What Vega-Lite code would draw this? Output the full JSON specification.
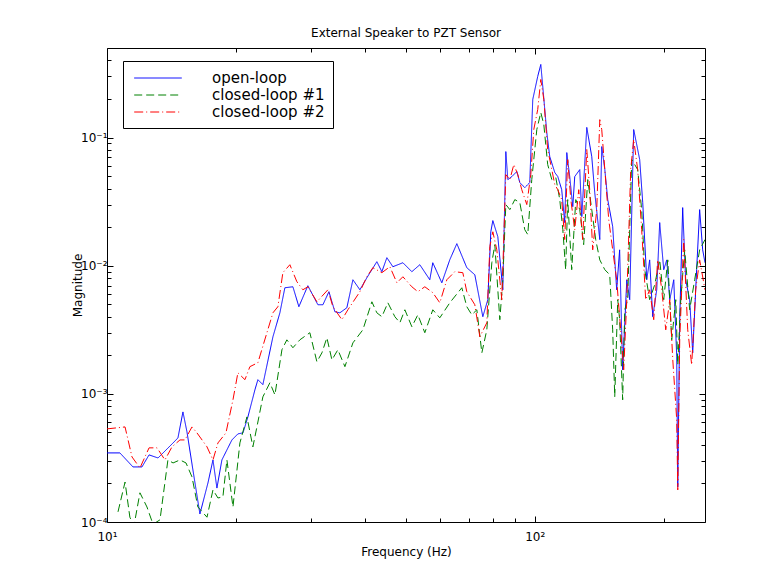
{
"$schema": "https://vega.github.io/schema/vega-lite/v6.json",
"width": 598, "height": 474,
"autosize": {"type": "none"},
"padding": {"left": 107, "top": 48, "right": 62, "bottom": 60},
"background": "white",
"title": {"text": "External Speaker to PZT Sensor", "font": "DejaVu Sans", "fontSize": 12, "fontWeight": "normal", "color": "black", "frame": "group", "offset": 8},
"config": {
  "view": {"stroke": "black", "strokeWidth": 1},
  "axis": {"domain": false, "grid": false, "tickColor": "black", "tickWidth": 1, "labelColor": "black", "titleColor": "black", "labelFont": "DejaVu Sans", "titleFont": "DejaVu Sans", "labelFontSize": 12, "titleFontSize": 12, "titleFontWeight": "normal", "labelFlush": false}
},
"data": {"values": [
{"s":"open-loop","f":10.0,"m":3.46e-4},{"s":"open-loop","f":10.72,"m":3.46e-4},{"s":"open-loop","f":11.5,"m":2.69e-4},{"s":"open-loop","f":12.07,"m":2.69e-4},{"s":"open-loop","f":12.54,"m":3.34e-4},{"s":"open-loop","f":13.16,"m":3.16e-4},{"s":"open-loop","f":14.27,"m":4.14e-4},{"s":"open-loop","f":14.65,"m":4.53e-4},{"s":"open-loop","f":15.05,"m":7.23e-4},{"s":"open-loop","f":15.38,"m":5.05e-4},{"s":"open-loop","f":15.88,"m":2.55e-4},{"s":"open-loop","f":16.49,"m":1.155e-4},{"s":"open-loop","f":17.22,"m":2.02e-4},{"s":"open-loop","f":17.69,"m":3.05e-4},{"s":"open-loop","f":18.07,"m":1.84e-4},{"s":"open-loop","f":18.56,"m":3.05e-4},{"s":"open-loop","f":19.59,"m":4.37e-4},{"s":"open-loop","f":20.23,"m":4.87e-4},{"s":"open-loop","f":20.79,"m":4.96e-4},{"s":"open-loop","f":21.35,"m":6.61e-4},{"s":"open-loop","f":22.17,"m":1.075e-3},{"s":"open-loop","f":22.53,"m":1.29e-3},{"s":"open-loop","f":23.14,"m":1.18e-3},{"s":"open-loop","f":24.43,"m":2.79e-3},{"s":"open-loop","f":25.36,"m":4.29e-3},{"s":"open-loop","f":26.05,"m":6.73e-3},{"s":"open-loop","f":27.2,"m":6.85e-3},{"s":"open-loop","f":28.09,"m":4.79e-3},{"s":"open-loop","f":29.48,"m":6.98e-3},{"s":"open-loop","f":31.12,"m":4.96e-3},{"s":"open-loop","f":31.97,"m":4.96e-3},{"s":"open-loop","f":33.02,"m":6.27e-3},{"s":"open-loop","f":34.1,"m":4.37e-3},{"s":"open-loop","f":35.03,"m":4.29e-3},{"s":"open-loop","f":36.37,"m":4.7e-3},{"s":"open-loop","f":37.57,"m":7.77e-3},{"s":"open-loop","f":39.01,"m":6.49e-3},{"s":"open-loop","f":40.51,"m":8.06e-3},{"s":"open-loop","f":42.74,"m":1.075e-2},{"s":"open-loop","f":43.91,"m":8.98e-3},{"s":"open-loop","f":45.11,"m":1.155e-2},{"s":"open-loop","f":46.59,"m":9.82e-3},{"s":"open-loop","f":49.17,"m":1.055e-2},{"s":"open-loop","f":51.6,"m":8.98e-3},{"s":"open-loop","f":53.86,"m":1.018e-2},{"s":"open-loop","f":56.83,"m":7.77e-3},{"s":"open-loop","f":57.76,"m":1.055e-2},{"s":"open-loop","f":60.63,"m":7.36e-3},{"s":"open-loop","f":63.3,"m":1.114e-2},{"s":"open-loop","f":65.74,"m":1.486e-2},{"s":"open-loop","f":69.36,"m":9.65e-3},{"s":"open-loop","f":72.42,"m":8.5e-3},{"s":"open-loop","f":75.61,"m":4.0e-3},{"s":"open-loop","f":77.67,"m":5.43e-3},{"s":"open-loop","f":78.93,"m":1.84e-2},{"s":"open-loop","f":79.79,"m":2.25e-2},{"s":"open-loop","f":81.96,"m":1.685e-2},{"s":"open-loop","f":84.2,"m":6.49e-3},{"s":"open-loop","f":85.57,"m":7.77e-2},{"s":"open-loop","f":86.5,"m":4.7e-2},{"s":"open-loop","f":88.39,"m":4.96e-2},{"s":"open-loop","f":90.79,"m":5.43e-2},{"s":"open-loop","f":92.27,"m":4.45e-2},{"s":"open-loop","f":94.76,"m":4.07e-2},{"s":"open-loop","f":97.34,"m":4.45e-2},{"s":"open-loop","f":98.92,"m":0.198},{"s":"open-loop","f":101.6,"m":0.30},{"s":"open-loop","f":103.3,"m":0.372},{"s":"open-loop","f":104.4,"m":0.25},{"s":"open-loop","f":106.7,"m":0.109},{"s":"open-loop","f":108.4,"m":7.1e-2},{"s":"open-loop","f":111.4,"m":5.33e-2},{"s":"open-loop","f":113.2,"m":4.96e-2},{"s":"open-loop","f":115.6,"m":3.92e-2},{"s":"open-loop","f":117.5,"m":2.17e-2},{"s":"open-loop","f":118.8,"m":7.63e-2},{"s":"open-loop","f":120.7,"m":4.96e-2},{"s":"open-loop","f":122.7,"m":2.89e-2},{"s":"open-loop","f":124.0,"m":4.96e-2},{"s":"open-loop","f":127.4,"m":5.62e-2},{"s":"open-loop","f":128.8,"m":2.42e-2},{"s":"open-loop","f":132.3,"m":0.12},{"s":"open-loop","f":135.9,"m":7.1e-2},{"s":"open-loop","f":138.1,"m":3.72e-2},{"s":"open-loop","f":141.9,"m":1.6e-2},{"s":"open-loop","f":143.4,"m":8.5e-2},{"s":"open-loop","f":145.8,"m":5.62e-2},{"s":"open-loop","f":148.1,"m":3.28e-2},{"s":"open-loop","f":152.1,"m":2.02e-2},{"s":"open-loop","f":155.4,"m":6.49e-3},{"s":"open-loop","f":157.9,"m":1.33e-2},{"s":"open-loop","f":160.5,"m":1.54e-3},{"s":"open-loop","f":164.1,"m":7.77e-3},{"s":"open-loop","f":166.7,"m":5.43e-3},{"s":"open-loop","f":170.3,"m":0.1155},{"s":"open-loop","f":173.1,"m":8.82e-2},{"s":"open-loop","f":175.9,"m":6.73e-2},{"s":"open-loop","f":178.8,"m":3.11e-2},{"s":"open-loop","f":182.7,"m":7.77e-3},{"s":"open-loop","f":185.6,"m":1.11e-2},{"s":"open-loop","f":188.7,"m":4.0e-3},{"s":"open-loop","f":192.8,"m":6.49e-3},{"s":"open-loop","f":195.9,"m":2.17e-2},{"s":"open-loop","f":200.2,"m":9.31e-3},{"s":"open-loop","f":203.5,"m":1.11e-2},{"s":"open-loop","f":206.8,"m":5.43e-3},{"s":"open-loop","f":211.3,"m":7.77e-3},{"s":"open-loop","f":214.7,"m":1.95e-3},{"s":"open-loop","f":215.9,"m":1.88e-4},{"s":"open-loop","f":218.2,"m":3.79e-3},{"s":"open-loop","f":221.7,"m":2.84e-2},{"s":"open-loop","f":225.3,"m":7.77e-3},{"s":"open-loop","f":230.2,"m":5.43e-3},{"s":"open-loop","f":234.0,"m":2.09e-3},{"s":"open-loop","f":239.0,"m":9.31e-3},{"s":"open-loop","f":242.9,"m":2.74e-2},{"s":"open-loop","f":246.9,"m":1.33e-2},{"s":"open-loop","f":250,"m":1.055e-2},
{"s":"closed-loop #1","f":10.61,"m":1.2e-4},{"s":"closed-loop #1","f":11.02,"m":2.05e-4},{"s":"closed-loop #1","f":11.31,"m":1.09e-4},{"s":"closed-loop #1","f":11.56,"m":9.3e-5},{"s":"closed-loop #1","f":11.94,"m":1.69e-4},{"s":"closed-loop #1","f":12.4,"m":1.31e-4},{"s":"closed-loop #1","f":12.81,"m":9.6e-5},{"s":"closed-loop #1","f":13.3,"m":1.04e-4},{"s":"closed-loop #1","f":13.88,"m":3.05e-4},{"s":"closed-loop #1","f":14.27,"m":2.89e-4},{"s":"closed-loop #1","f":14.81,"m":3.05e-4},{"s":"closed-loop #1","f":15.3,"m":2.89e-4},{"s":"closed-loop #1","f":15.8,"m":2.25e-4},{"s":"closed-loop #1","f":16.31,"m":1.31e-4},{"s":"closed-loop #1","f":17.13,"m":1.09e-4},{"s":"closed-loop #1","f":17.69,"m":1.78e-4},{"s":"closed-loop #1","f":18.17,"m":1.54e-4},{"s":"closed-loop #1","f":18.66,"m":1.57e-4},{"s":"closed-loop #1","f":19.07,"m":3.05e-4},{"s":"closed-loop #1","f":19.7,"m":1.31e-4},{"s":"closed-loop #1","f":20.45,"m":4.14e-4},{"s":"closed-loop #1","f":21.24,"m":6.61e-4},{"s":"closed-loop #1","f":21.93,"m":3.86e-4},{"s":"closed-loop #1","f":22.41,"m":5.52e-4},{"s":"closed-loop #1","f":23.14,"m":9.47e-4},{"s":"closed-loop #1","f":24.03,"m":1.22e-3},{"s":"closed-loop #1","f":24.69,"m":9.82e-4},{"s":"closed-loop #1","f":25.64,"m":2.21e-3},{"s":"closed-loop #1","f":26.33,"m":2.64e-3},{"s":"closed-loop #1","f":27.2,"m":2.29e-3},{"s":"closed-loop #1","f":28.24,"m":2.64e-3},{"s":"closed-loop #1","f":29.8,"m":3.0e-3},{"s":"closed-loop #1","f":30.95,"m":1.78e-3},{"s":"closed-loop #1","f":31.8,"m":2.09e-3},{"s":"closed-loop #1","f":32.66,"m":2.74e-3},{"s":"closed-loop #1","f":33.56,"m":1.84e-3},{"s":"closed-loop #1","f":34.65,"m":2.21e-3},{"s":"closed-loop #1","f":35.99,"m":1.63e-3},{"s":"closed-loop #1","f":37.57,"m":2.5e-3},{"s":"closed-loop #1","f":39.64,"m":3.16e-3},{"s":"closed-loop #1","f":41.61,"m":5.23e-3},{"s":"closed-loop #1","f":42.74,"m":4.29e-3},{"s":"closed-loop #1","f":43.91,"m":4.0e-3},{"s":"closed-loop #1","f":45.35,"m":5.14e-3},{"s":"closed-loop #1","f":47.09,"m":4.0e-3},{"s":"closed-loop #1","f":48.38,"m":3.59e-3},{"s":"closed-loop #1","f":49.7,"m":4.53e-3},{"s":"closed-loop #1","f":51.6,"m":3.34e-3},{"s":"closed-loop #1","f":53.29,"m":4.14e-3},{"s":"closed-loop #1","f":55.33,"m":3.0e-3},{"s":"closed-loop #1","f":57.76,"m":4.53e-3},{"s":"closed-loop #1","f":59.98,"m":3.92e-3},{"s":"closed-loop #1","f":63.3,"m":5.14e-3},{"s":"closed-loop #1","f":67.53,"m":6.73e-3},{"s":"closed-loop #1","f":69.36,"m":4.79e-3},{"s":"closed-loop #1","f":71.25,"m":4.14e-3},{"s":"closed-loop #1","f":73.21,"m":4.53e-3},{"s":"closed-loop #1","f":75.21,"m":2.09e-3},{"s":"closed-loop #1","f":77.25,"m":3.16e-3},{"s":"closed-loop #1","f":79.36,"m":1.055e-2},{"s":"closed-loop #1","f":80.65,"m":1.46e-2},{"s":"closed-loop #1","f":82.85,"m":3.79e-3},{"s":"closed-loop #1","f":84.2,"m":7.77e-3},{"s":"closed-loop #1","f":85.57,"m":3.0e-2},{"s":"closed-loop #1","f":87.44,"m":2.74e-2},{"s":"closed-loop #1","f":89.82,"m":3.28e-2},{"s":"closed-loop #1","f":92.27,"m":3.11e-2},{"s":"closed-loop #1","f":94.76,"m":1.91e-2},{"s":"closed-loop #1","f":96.3,"m":1.75e-2},{"s":"closed-loop #1","f":98.4,"m":4.7e-2},{"s":"closed-loop #1","f":101.1,"m":0.1155},{"s":"closed-loop #1","f":103.3,"m":0.157},{"s":"closed-loop #1","f":105.0,"m":0.126},{"s":"closed-loop #1","f":107.2,"m":6.16e-2},{"s":"closed-loop #1","f":109.6,"m":4.7e-2},{"s":"closed-loop #1","f":112.0,"m":4.87e-2},{"s":"closed-loop #1","f":114.4,"m":3.28e-2},{"s":"closed-loop #1","f":116.3,"m":1.91e-2},{"s":"closed-loop #1","f":118.1,"m":9.31e-3},{"s":"closed-loop #1","f":119.4,"m":3.28e-2},{"s":"closed-loop #1","f":122.0,"m":9.31e-3},{"s":"closed-loop #1","f":124.7,"m":3.28e-2},{"s":"closed-loop #1","f":127.4,"m":2.74e-2},{"s":"closed-loop #1","f":130.1,"m":1.46e-2},{"s":"closed-loop #1","f":133.0,"m":4.7e-2},{"s":"closed-loop #1","f":135.9,"m":2.74e-2},{"s":"closed-loop #1","f":138.8,"m":1.6e-2},{"s":"closed-loop #1","f":141.9,"m":1.11e-2},{"s":"closed-loop #1","f":145.8,"m":9.31e-3},{"s":"closed-loop #1","f":149.7,"m":8.5e-3},{"s":"closed-loop #1","f":152.1,"m":3.16e-3},{"s":"closed-loop #1","f":153.8,"m":9.47e-4},{"s":"closed-loop #1","f":156.3,"m":5.43e-3},{"s":"closed-loop #1","f":157.9,"m":3.79e-3},{"s":"closed-loop #1","f":160.5,"m":8.98e-4},{"s":"closed-loop #1","f":162.3,"m":4.53e-3},{"s":"closed-loop #1","f":164.9,"m":5.43e-3},{"s":"closed-loop #1","f":168.5,"m":6.73e-2},{"s":"closed-loop #1","f":171.2,"m":6.16e-2},{"s":"closed-loop #1","f":174.0,"m":5.62e-2},{"s":"closed-loop #1","f":177.8,"m":2.74e-2},{"s":"closed-loop #1","f":180.7,"m":9.31e-3},{"s":"closed-loop #1","f":185.6,"m":5.43e-3},{"s":"closed-loop #1","f":190.7,"m":7.1e-3},{"s":"closed-loop #1","f":195.9,"m":1.11e-2},{"s":"closed-loop #1","f":200.2,"m":5.43e-3},{"s":"closed-loop #1","f":204.6,"m":1.11e-2},{"s":"closed-loop #1","f":209.0,"m":2.64e-3},{"s":"closed-loop #1","f":213.6,"m":5.43e-3},{"s":"closed-loop #1","f":215.9,"m":1.685e-3},{"s":"closed-loop #1","f":219.4,"m":5.43e-3},{"s":"closed-loop #1","f":224.1,"m":1.33e-2},{"s":"closed-loop #1","f":230.2,"m":4.53e-3},{"s":"closed-loop #1","f":236.5,"m":7.77e-3},{"s":"closed-loop #1","f":242.9,"m":1.33e-2},{"s":"closed-loop #1","f":250,"m":1.6e-2},
{"s":"closed-loop #2","f":10.0,"m":5.33e-4},{"s":"closed-loop #2","f":10.55,"m":5.43e-4},{"s":"closed-loop #2","f":11.02,"m":5.52e-4},{"s":"closed-loop #2","f":11.44,"m":3.22e-4},{"s":"closed-loop #2","f":11.94,"m":2.64e-4},{"s":"closed-loop #2","f":12.54,"m":3.79e-4},{"s":"closed-loop #2","f":13.09,"m":3.79e-4},{"s":"closed-loop #2","f":13.66,"m":3.05e-4},{"s":"closed-loop #2","f":14.19,"m":3.86e-4},{"s":"closed-loop #2","f":14.81,"m":4.37e-4},{"s":"closed-loop #2","f":15.21,"m":4.37e-4},{"s":"closed-loop #2","f":15.8,"m":5.52e-4},{"s":"closed-loop #2","f":16.23,"m":4.96e-4},{"s":"closed-loop #2","f":17.13,"m":3.86e-4},{"s":"closed-loop #2","f":17.69,"m":3.05e-4},{"s":"closed-loop #2","f":18.17,"m":4.14e-4},{"s":"closed-loop #2","f":18.97,"m":4.96e-4},{"s":"closed-loop #2","f":19.7,"m":8.98e-4},{"s":"closed-loop #2","f":20.23,"m":1.46e-3},{"s":"closed-loop #2","f":21.01,"m":1.29e-3},{"s":"closed-loop #2","f":21.58,"m":1.63e-3},{"s":"closed-loop #2","f":22.53,"m":1.75e-3},{"s":"closed-loop #2","f":23.65,"m":3.0e-3},{"s":"closed-loop #2","f":24.43,"m":4.29e-3},{"s":"closed-loop #2","f":25.09,"m":4.79e-3},{"s":"closed-loop #2","f":25.77,"m":8.82e-3},{"s":"closed-loop #2","f":26.76,"m":1.018e-2},{"s":"closed-loop #2","f":27.79,"m":7.5e-3},{"s":"closed-loop #2","f":28.7,"m":6.49e-3},{"s":"closed-loop #2","f":29.48,"m":6.85e-3},{"s":"closed-loop #2","f":30.95,"m":5.23e-3},{"s":"closed-loop #2","f":32.84,"m":6.49e-3},{"s":"closed-loop #2","f":33.73,"m":4.79e-3},{"s":"closed-loop #2","f":35.41,"m":3.79e-3},{"s":"closed-loop #2","f":36.57,"m":4.53e-3},{"s":"closed-loop #2","f":39.01,"m":6.27e-3},{"s":"closed-loop #2","f":40.51,"m":8.2e-3},{"s":"closed-loop #2","f":41.83,"m":9.65e-3},{"s":"closed-loop #2","f":43.91,"m":8.82e-3},{"s":"closed-loop #2","f":45.84,"m":9.82e-3},{"s":"closed-loop #2","f":47.61,"m":7.36e-3},{"s":"closed-loop #2","f":49.17,"m":8.2e-3},{"s":"closed-loop #2","f":51.6,"m":6.85e-3},{"s":"closed-loop #2","f":53.29,"m":6.27e-3},{"s":"closed-loop #2","f":55.33,"m":6.85e-3},{"s":"closed-loop #2","f":57.76,"m":6.16e-3},{"s":"closed-loop #2","f":59.98,"m":5.14e-3},{"s":"closed-loop #2","f":62.29,"m":7.77e-3},{"s":"closed-loop #2","f":65.03,"m":8.98e-3},{"s":"closed-loop #2","f":67.89,"m":8.82e-3},{"s":"closed-loop #2","f":69.36,"m":6.27e-3},{"s":"closed-loop #2","f":72.42,"m":4.96e-3},{"s":"closed-loop #2","f":74.4,"m":2.79e-3},{"s":"closed-loop #2","f":77.25,"m":3.59e-3},{"s":"closed-loop #2","f":78.51,"m":1.41e-2},{"s":"closed-loop #2","f":79.79,"m":1.84e-2},{"s":"closed-loop #2","f":81.52,"m":1.33e-2},{"s":"closed-loop #2","f":83.75,"m":5.43e-3},{"s":"closed-loop #2","f":85.57,"m":5.14e-2},{"s":"closed-loop #2","f":87.44,"m":4.7e-2},{"s":"closed-loop #2","f":89.34,"m":6.16e-2},{"s":"closed-loop #2","f":91.28,"m":5.14e-2},{"s":"closed-loop #2","f":93.24,"m":3.92e-2},{"s":"closed-loop #2","f":95.79,"m":3.0e-2},{"s":"closed-loop #2","f":97.88,"m":5.14e-2},{"s":"closed-loop #2","f":99.47,"m":0.1155},{"s":"closed-loop #2","f":101.6,"m":0.1655},{"s":"closed-loop #2","f":103.3,"m":0.284},{"s":"closed-loop #2","f":105.0,"m":0.198},{"s":"closed-loop #2","f":107.2,"m":8.06e-2},{"s":"closed-loop #2","f":109.0,"m":6.16e-2},{"s":"closed-loop #2","f":111.4,"m":4.29e-2},{"s":"closed-loop #2","f":113.2,"m":3.92e-2},{"s":"closed-loop #2","f":115.6,"m":3.28e-2},{"s":"closed-loop #2","f":117.5,"m":1.6e-2},{"s":"closed-loop #2","f":119.4,"m":6.73e-2},{"s":"closed-loop #2","f":121.4,"m":3.28e-2},{"s":"closed-loop #2","f":124.0,"m":1.91e-2},{"s":"closed-loop #2","f":126.7,"m":3.92e-2},{"s":"closed-loop #2","f":129.4,"m":1.6e-2},{"s":"closed-loop #2","f":132.3,"m":8.06e-2},{"s":"closed-loop #2","f":134.4,"m":3.92e-2},{"s":"closed-loop #2","f":136.6,"m":1.33e-2},{"s":"closed-loop #2","f":139.6,"m":2.74e-2},{"s":"closed-loop #2","f":141.9,"m":0.138},{"s":"closed-loop #2","f":143.4,"m":0.1155},{"s":"closed-loop #2","f":145.8,"m":5.62e-2},{"s":"closed-loop #2","f":148.9,"m":2.29e-2},{"s":"closed-loop #2","f":152.1,"m":1.33e-2},{"s":"closed-loop #2","f":155.4,"m":7.77e-3},{"s":"closed-loop #2","f":158.8,"m":3.16e-3},{"s":"closed-loop #2","f":161.4,"m":1.54e-3},{"s":"closed-loop #2","f":164.1,"m":5.43e-3},{"s":"closed-loop #2","f":167.6,"m":5.62e-2},{"s":"closed-loop #2","f":170.3,"m":9.65e-2},{"s":"closed-loop #2","f":174.0,"m":5.62e-2},{"s":"closed-loop #2","f":177.8,"m":1.91e-2},{"s":"closed-loop #2","f":181.7,"m":5.43e-3},{"s":"closed-loop #2","f":185.6,"m":6.49e-3},{"s":"closed-loop #2","f":189.7,"m":3.79e-3},{"s":"closed-loop #2","f":193.8,"m":1.11e-2},{"s":"closed-loop #2","f":198.1,"m":6.49e-3},{"s":"closed-loop #2","f":202.4,"m":3.16e-3},{"s":"closed-loop #2","f":206.8,"m":5.43e-3},{"s":"closed-loop #2","f":210.2,"m":1.84e-3},{"s":"closed-loop #2","f":214.7,"m":6.27e-4},{"s":"closed-loop #2","f":215.9,"m":1.78e-4},{"s":"closed-loop #2","f":218.2,"m":2.64e-3},{"s":"closed-loop #2","f":222.9,"m":1.6e-2},{"s":"closed-loop #2","f":227.8,"m":3.16e-3},{"s":"closed-loop #2","f":232.7,"m":1.685e-3},{"s":"closed-loop #2","f":237.8,"m":6.49e-3},{"s":"closed-loop #2","f":242.9,"m":1.11e-2},{"s":"closed-loop #2","f":250,"m":6.49e-3}
]},
"layer": [
  {
    "mark": {"type": "line", "strokeWidth": 1, "clip": true},
    "encoding": {
      "x": {"field": "f", "type": "quantitative", "scale": {"type": "log", "domain": [10, 250], "nice": false},
            "axis": {"orient": "bottom", "values": [10, 100], "tickSize": -6, "labelPadding": 15, "labelExpr": "datum.value < 50 ? '10¹' : '10²'", "title": "Frequency (Hz)", "titlePadding": 4}},
      "y": {"field": "m", "type": "quantitative", "scale": {"type": "log", "domain": [0.0001, 0.5], "nice": false},
            "axis": {"orient": "left", "values": [0.0001, 0.001, 0.01, 0.1], "tickSize": -6, "labelPadding": 6, "labelExpr": "datum.value < 0.0005 ? '10⁻⁴' : datum.value < 0.005 ? '10⁻³' : datum.value < 0.05 ? '10⁻²' : '10⁻¹'", "title": "Magnitude", "titlePadding": -4}},
      "color": {"field": "s", "type": "nominal", "scale": {"domain": ["open-loop", "closed-loop #1", "closed-loop #2"], "range": ["#0000ff", "#008000", "#ff0000"]},
                "legend": {"orient": "none", "legendX": 16, "legendY": 13, "title": null, "symbolType": "M-2.8,0H2.8", "symbolSize": 289, "symbolStrokeWidth": 1, "symbolFillColor": "transparent", "labelFont": "DejaVu Sans", "labelFontSize": 15, "labelColor": "black", "labelOffset": 45, "padding": 8, "symbolOffset": 18, "strokeColor": "black", "fillColor": "white", "rowPadding": -1}},
      "strokeDash": {"field": "s", "type": "nominal", "scale": {"domain": ["open-loop", "closed-loop #1", "closed-loop #2"], "range": [[1, 0], [8, 4], [9, 3, 1, 3]]}}
    }
  },
  {
    "mark": {"type": "point", "opacity": 0},
    "encoding": {
      "x": {"field": "f", "type": "quantitative", "scale": {"type": "log", "domain": [10, 250], "nice": false},
            "axis": {"orient": "bottom", "values": [20, 30, 40, 50, 60, 70, 80, 90, 200], "tickSize": -4, "labels": false, "title": null}},
      "y": {"field": "m", "type": "quantitative", "scale": {"type": "log", "domain": [0.0001, 0.5], "nice": false},
            "axis": {"orient": "left", "values": [0.0002, 0.0003, 0.0004, 0.0005, 0.0006, 0.0007, 0.0008, 0.0009, 0.002, 0.003, 0.004, 0.005, 0.006, 0.007, 0.008, 0.009, 0.02, 0.03, 0.04, 0.05, 0.06, 0.07, 0.08, 0.09, 0.2, 0.3, 0.4], "tickSize": -4, "labels": false, "title": null}}
    }
  },
  {
    "mark": {"type": "point", "opacity": 0},
    "encoding": {
      "x": {"field": "f", "type": "quantitative", "scale": {"type": "log", "domain": [10, 250], "nice": false},
            "axis": {"orient": "top", "values": [10, 100], "tickSize": -6, "labels": false, "title": null}},
      "y": {"field": "m", "type": "quantitative", "scale": {"type": "log", "domain": [0.0001, 0.5], "nice": false},
            "axis": {"orient": "right", "values": [0.0001, 0.001, 0.01, 0.1], "tickSize": -6, "labels": false, "title": null}}
    }
  },
  {
    "mark": {"type": "point", "opacity": 0},
    "encoding": {
      "x": {"field": "f", "type": "quantitative", "scale": {"type": "log", "domain": [10, 250], "nice": false},
            "axis": {"orient": "top", "values": [20, 30, 40, 50, 60, 70, 80, 90, 200], "tickSize": -4, "labels": false, "title": null}},
      "y": {"field": "m", "type": "quantitative", "scale": {"type": "log", "domain": [0.0001, 0.5], "nice": false},
            "axis": {"orient": "right", "values": [0.0002, 0.0003, 0.0004, 0.0005, 0.0006, 0.0007, 0.0008, 0.0009, 0.002, 0.003, 0.004, 0.005, 0.006, 0.007, 0.008, 0.009, 0.02, 0.03, 0.04, 0.05, 0.06, 0.07, 0.08, 0.09, 0.2, 0.3, 0.4], "tickSize": -4, "labels": false, "title": null}}
    }
  }
],
"resolve": {"axis": {"x": "independent", "y": "independent"}}
}
